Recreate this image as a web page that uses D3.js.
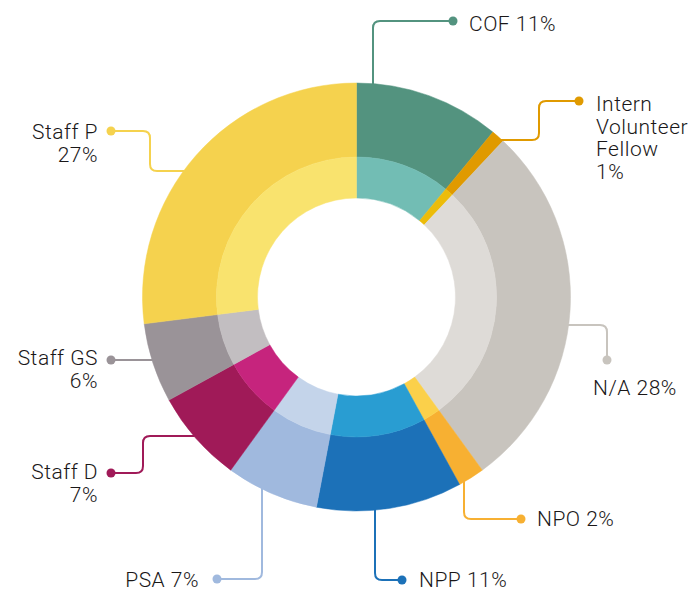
<!DOCTYPE html>
<html>
<head>
<meta charset="utf-8">
<script src="https://cdn.jsdelivr.net/npm/d3@7"></script>
<style>
  html, body { margin: 0; padding: 0; background: #fff; }
  svg text { font-family: Roboto, "Noto Sans", sans-serif; font-size: 21px; font-weight: 300; letter-spacing: 0.5px; fill: #1a1718; }
</style>
</head>
<body>
<div id="app"></div>
<script>
// chart data
const categories = ['COF', 'Intern Volunteer Fellow', 'N/A', 'NPO', 'NPP', 'PSA', 'Staff D', 'Staff GS', 'Staff P'];
const values = [11, 1, 28, 2, 11, 7, 7, 6, 27];
const outerColors = ['#53937f', '#e09a00', '#c8c4be', '#f7b032', '#1c71b8', '#a0b9de', '#a01a58', '#9a9398', '#f5d24e'];
const innerColors = ['#72bdb4', '#ecbc0a', '#dedbd7', '#fbd04a', '#299dd2', '#c4d4ea', '#c6247d', '#c2bec1', '#f9e36e'];

// leader lines: where they leave the ring, their route, and where the text sits
const labelLayout = [
  { side: 'top', at: 373, route: [[373, 21], [453, 21]], tx: 469, ty: 31, anchor: 'start', wrap: 'inline' },
  { side: 'right', at: 140, route: [[539, 140], [539, 101], [579, 101]], tx: 596, ty: 111, anchor: 'start', wrap: 'words' },
  { side: 'right', at: 325, route: [[607, 325], [607, 360]], tx: 593, ty: 395, anchor: 'start', wrap: 'inline' },
  { side: 'bottom', at: 464, route: [[464, 519], [521, 519]], tx: 537, ty: 526, anchor: 'start', wrap: 'inline' },
  { side: 'bottom', at: 375, route: [[375, 580], [402, 580]], tx: 419, ty: 587, anchor: 'start', wrap: 'inline' },
  { side: 'bottom', at: 262, route: [[262, 579], [217, 579]], tx: 199, ty: 587, anchor: 'end', wrap: 'inline' },
  { side: 'left', at: 436, route: [[143, 436], [143, 473], [111, 473]], tx: 98, ty: 479, anchor: 'end', wrap: 'break' },
  { side: 'left', at: 360, route: [[111, 360]], tx: 98, ty: 365, anchor: 'end', wrap: 'break' },
  { side: 'left', at: 171, route: [[150, 171], [150, 131], [111, 131]], tx: 98, ty: 139, anchor: 'end', wrap: 'break' },
];

const width = 698;
const height = 592;
const cx = 356.5;
const cy = 297;
const rHole = 99;
const rMid = 140;
const rOuter = 214;
const lineGap = 22.5;

const data = categories.map((name, i) => ({ name, value: values[i], i }));

const svg = d3.create('svg').attr('width', width).attr('height', height);

const pie = d3.pie().sort(null).value((d) => d.value);
const arcs = pie(data);

const outerArc = d3.arc().innerRadius(rMid).outerRadius(rOuter);
const innerArc = d3.arc().innerRadius(rHole).outerRadius(rMid);

const ring = svg.append('g').attr('transform', `translate(${cx},${cy})`);

ring.selectAll('path.outer')
  .data(arcs)
  .join('path')
  .attr('class', 'outer')
  .attr('d', outerArc)
  .attr('fill', (d) => outerColors[d.data.i])
  .attr('stroke', (d) => outerColors[d.data.i])
  .attr('stroke-width', 0.5);

ring.selectAll('path.inner')
  .data(arcs)
  .join('path')
  .attr('class', 'inner')
  .attr('d', innerArc)
  .attr('fill', (d) => innerColors[d.data.i])
  .attr('stroke', (d) => innerColors[d.data.i])
  .attr('stroke-width', 0.5);

// point on the outer edge for a leader line
function edgePoint(l) {
  if (l.side === 'top' || l.side === 'bottom') {
    const dy = Math.sqrt(rOuter * rOuter - (l.at - cx) ** 2);
    return [l.at, l.side === 'top' ? cy - dy + 1 : cy + dy - 1];
  }
  const dx = Math.sqrt(rOuter * rOuter - (l.at - cy) ** 2);
  return [l.side === 'right' ? cx + dx - 1 : cx - dx + 1, l.at];
}

// polyline with rounded corners
function roundedPath(pts, r) {
  const p = d3.path();
  p.moveTo(pts[0][0], pts[0][1]);
  for (let k = 1; k < pts.length - 1; k++) {
    const [ax, ay] = pts[k - 1];
    const [bx, by] = pts[k];
    const [qx, qy] = pts[k + 1];
    const l1 = Math.hypot(bx - ax, by - ay);
    const l2 = Math.hypot(qx - bx, qy - by);
    const rr = Math.min(r, l1 / 2, l2 / 2);
    p.lineTo(bx - (bx - ax) / l1 * rr, by - (by - ay) / l1 * rr);
    p.quadraticCurveTo(bx, by, bx + (qx - bx) / l2 * rr, by + (qy - by) / l2 * rr);
  }
  const last = pts[pts.length - 1];
  p.lineTo(last[0], last[1]);
  return p.toString();
}

const labels = svg.append('g');

data.forEach((d) => {
  const l = labelLayout[d.i];
  const color = outerColors[d.i];
  const pts = [edgePoint(l)].concat(l.route);
  const end = pts[pts.length - 1];

  labels.append('path')
    .attr('d', roundedPath(pts, 7))
    .attr('fill', 'none')
    .attr('stroke', color)
    .attr('stroke-width', 2);

  labels.append('circle')
    .attr('cx', end[0])
    .attr('cy', end[1])
    .attr('r', 4.5)
    .attr('fill', color);

  let lines;
  if (l.wrap === 'inline') lines = [d.name + ' ' + d.value + '%'];
  else if (l.wrap === 'break') lines = [d.name, d.value + '%'];
  else lines = d.name.split(' ').concat([d.value + '%']);

  // one text per line
  lines.forEach((t, j) => {
    labels.append('text')
      .attr('x', l.tx)
      .attr('y', l.ty + j * lineGap)
      .attr('text-anchor', l.anchor)
      .text(t);
  });
});

document.getElementById('app').appendChild(svg.node());
</script>
</body>
</html>
